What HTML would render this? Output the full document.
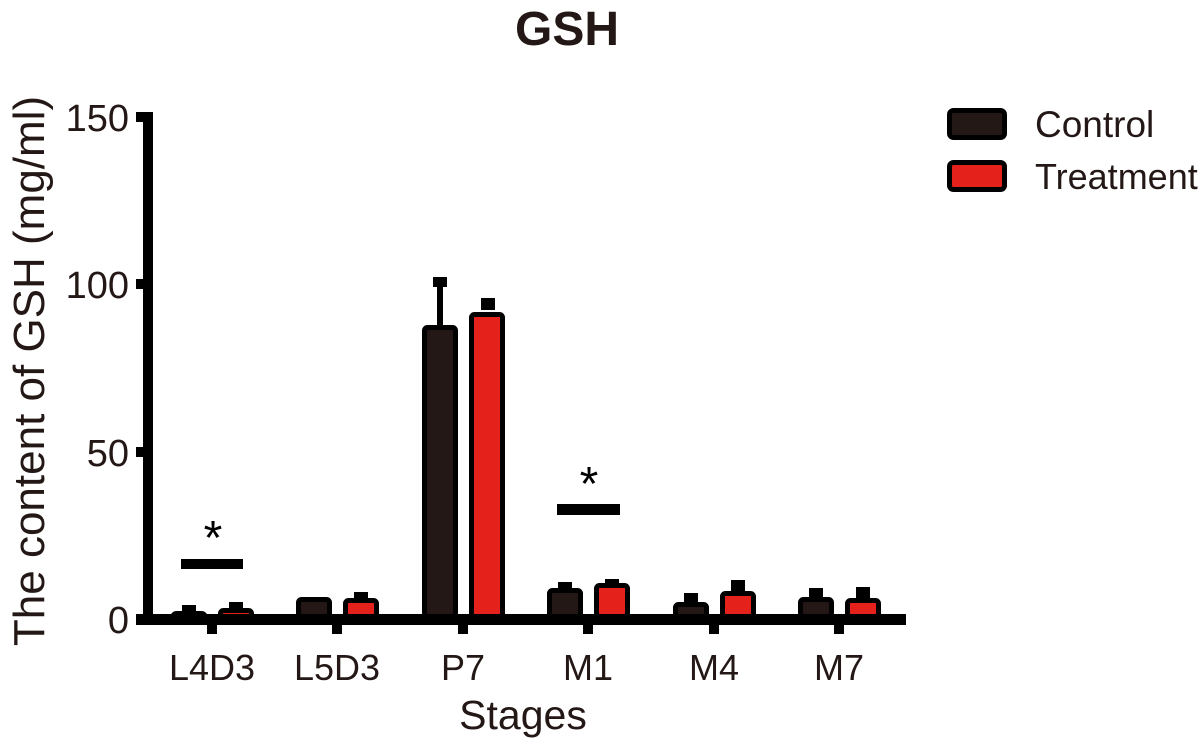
<!DOCTYPE html>
<html><head><style>body{margin:0;background:#fff}svg{display:block}text{font-family:"Liberation Sans",Arial,sans-serif;fill:#231815}</style></head><body>
<svg width="1200" height="745" viewBox="0 0 1200 745" xmlns="http://www.w3.org/2000/svg">
<text x="567" y="45" font-size="48" font-weight="bold" text-anchor="middle">GSH</text>
<!-- axes -->
<rect x="143" y="112" width="10" height="513" fill="#000"/>
<rect x="136" y="112" width="10" height="10" fill="#000"/>
<rect x="136" y="279" width="10" height="10" fill="#000"/>
<rect x="136" y="447" width="10" height="10" fill="#000"/>
<rect x="136" y="614" width="770" height="11" fill="#000"/>
<g fill="#000">
<rect x="207" y="620" width="10" height="14"/><rect x="332" y="620" width="10" height="14"/><rect x="458" y="620" width="10" height="14"/><rect x="583" y="620" width="10" height="14"/><rect x="709" y="620" width="10" height="14"/><rect x="834" y="620" width="10" height="14"/>
</g>
<g font-size="38" text-anchor="end">
<text x="129" y="131">150</text><text x="129" y="298">100</text><text x="129" y="466">50</text><text x="129" y="633">0</text>
</g>
<text transform="translate(44,371) rotate(-90)" font-size="44" text-anchor="middle">The content of GSH (mg/ml)</text>
<g font-size="36" text-anchor="middle">
<text x="212" y="680">L4D3</text><text x="337" y="680">L5D3</text><text x="463" y="680">P7</text><text x="588" y="680">M1</text><text x="714" y="680">M4</text><text x="839" y="680">M7</text>
</g>
<text x="523" y="729" font-size="41" text-anchor="middle">Stages</text>
<!-- error caps -->
<g fill="#000">
<rect x="182" y="605" width="14" height="10"/>
<rect x="229" y="602" width="14" height="10"/>
<rect x="354" y="592" width="14" height="10"/>
<rect x="433" y="277" width="14" height="10"/><rect x="437" y="285" width="6" height="45"/>
<rect x="481" y="298" width="14" height="12"/>
<rect x="558" y="582" width="14" height="10"/>
<rect x="605" y="579" width="14" height="10"/>
<rect x="684" y="593" width="14" height="12"/>
<rect x="731" y="580" width="14" height="14"/>
<rect x="809" y="588" width="14" height="12"/>
<rect x="856" y="587" width="14" height="12"/>
</g>
<!-- bars -->
<g stroke="#000" stroke-width="5" stroke-linejoin="round">
<rect x="173.5" y="613.5" width="31" height="4" rx="3" fill="#231815"/>
<rect x="220.5" y="610.5" width="31" height="6" rx="3" fill="#e5211b"/>
<rect x="298.5" y="599.5" width="31" height="17" rx="3" fill="#231815"/>
<rect x="345.5" y="600.5" width="31" height="16" rx="3" fill="#e5211b"/>
<rect x="424.5" y="327.5" width="31" height="289" rx="3" fill="#231815"/>
<rect x="471.5" y="314.5" width="31" height="302" rx="3" fill="#e5211b"/>
<rect x="549.5" y="590.5" width="31" height="26" rx="3" fill="#231815"/>
<rect x="596.5" y="585.5" width="31" height="31" rx="3" fill="#e5211b"/>
<rect x="675.5" y="604.5" width="31" height="12" rx="3" fill="#231815"/>
<rect x="722.5" y="593.5" width="31" height="23" rx="3" fill="#e5211b"/>
<rect x="800.5" y="599.5" width="31" height="17" rx="3" fill="#231815"/>
<rect x="847.5" y="600.5" width="31" height="16" rx="3" fill="#e5211b"/>
</g>
<!-- significance -->
<rect x="181" y="559" width="62" height="10" fill="#000"/>
<text x="213" y="554" font-size="48" text-anchor="middle" style="fill:#000">*</text>
<rect x="557" y="504" width="63" height="11" fill="#000"/>
<text x="589" y="500" font-size="48" text-anchor="middle" style="fill:#000">*</text>
<!-- legend -->
<rect x="949.5" y="110.5" width="55" height="27" rx="4" fill="#231815" stroke="#000" stroke-width="5"/>
<rect x="949.5" y="162.5" width="55" height="27" rx="4" fill="#e5211b" stroke="#000" stroke-width="5"/>
<text x="1035" y="137" font-size="37">Control</text>
<text x="1035" y="189" font-size="36">Treatment</text>
</svg>
</body></html>
